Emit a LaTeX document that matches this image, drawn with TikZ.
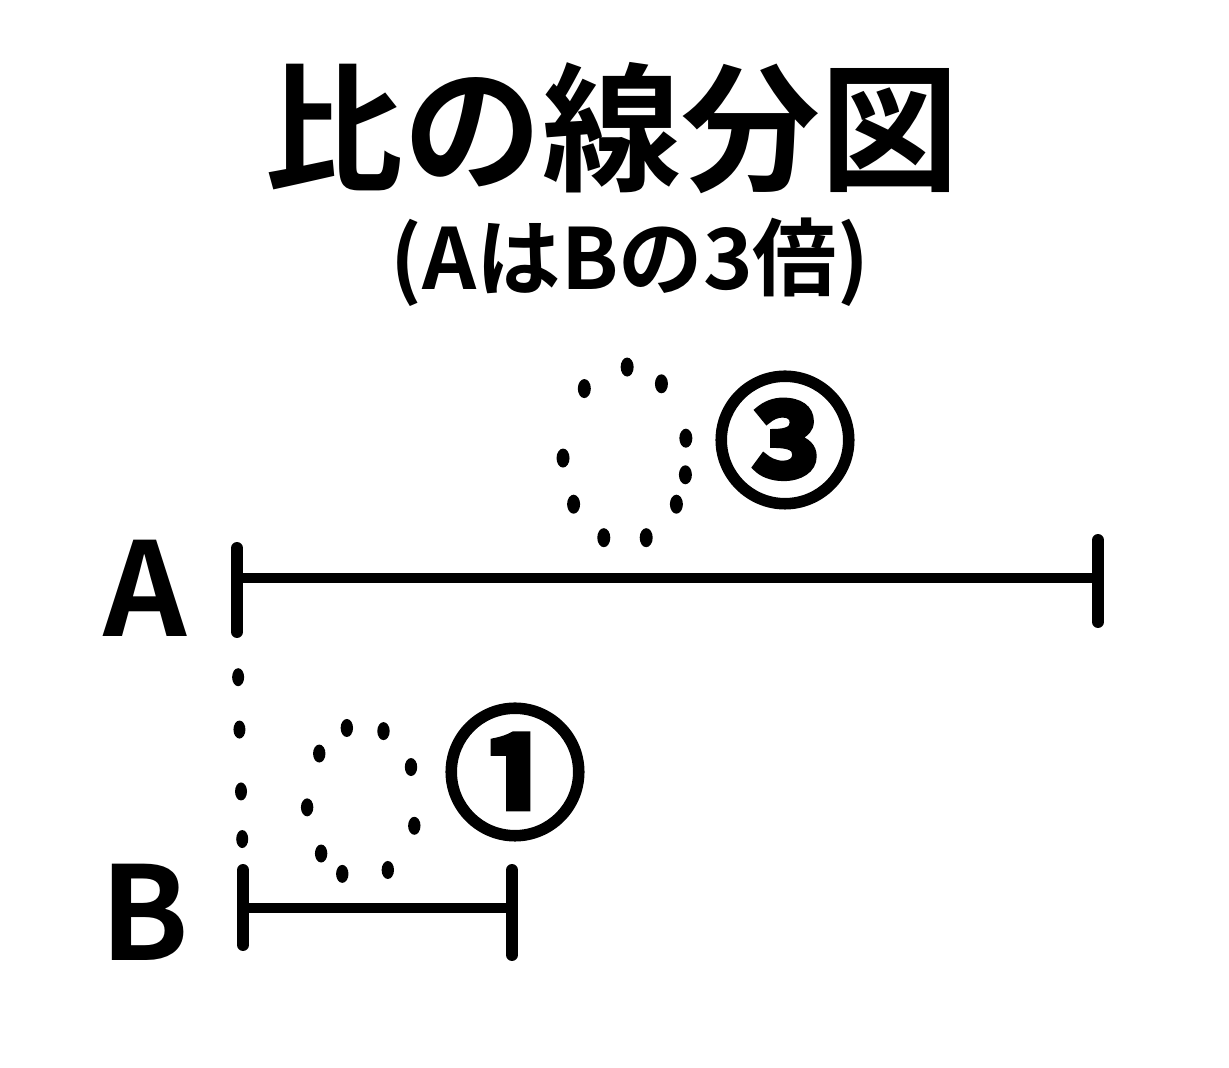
\documentclass[tikz,border=0pt]{standalone}
\usepackage{fontspec}
\setmainfont{Noto Sans CJK JP}[BoldFont={Noto Sans CJK JP Bold}]
\newfontfamily\circfont{Noto Sans CJK JP Bold}[FakeBold=4.5]
\usetikzlibrary{positioning,calc}

\begin{document}
\begin{tikzpicture}[
    heading/.style={font=\bfseries\fontsize{39.5pt}{39.5pt}\selectfont, inner sep=0pt},
    subheading/.style={font=\bfseries\fontsize{24pt}{24pt}\selectfont, inner sep=0pt},
    letter/.style={font=\bfseries\fontsize{37pt}{37pt}\selectfont, inner sep=0pt},
    circnum/.style={font=\circfont\fontsize{40pt}{40pt}\selectfont, inner sep=0pt},
    seg/.style={line width=2.9pt, line cap=round},
    tick/.style={line width=3.4pt, line cap=round},
    dot/.style={fill=black}
]
\useasboundingbox (0,0) rectangle (12.29,10.68);

% titles
\node [heading] (Title) at (6.12,9.40) {比の線分図};
\node [subheading] (Sub) at (6.30,8.06) {(AはBの3倍)};

% segment A
\coordinate (A-top) at (2.37,5.20);
\coordinate (A-bot) at (2.37,4.36);
\coordinate (A-left) at (2.37,4.90);
\coordinate (A-right) at (10.98,4.90);
\coordinate (A-rtop) at (10.98,5.28);
\coordinate (A-rbot) at (10.98,4.46);
\node [letter] (LabelA) at (1.45,4.80) {A};
\draw [seg] (A-left) -- (A-right);
\draw [tick] (A-top) -- (A-bot);
\draw [tick] (A-rtop) -- (A-rbot);

% segment B
\coordinate (B-top) at (2.43,1.98);
\coordinate (B-bot) at (2.43,1.23);
\coordinate (B-left) at (2.43,1.60);
\coordinate (B-right) at (5.12,1.60);
\coordinate (B-rtop) at (5.12,1.98);
\coordinate (B-rbot) at (5.12,1.13);
\node [letter] (LabelB) at (1.45,1.56) {B};
\draw [seg] (B-left) -- (B-right);
\draw [tick] (B-top) -- (B-bot);
\draw [tick] (B-rtop) -- (B-rbot);

% left ends lined up
\foreach \f in {0.19,0.41,0.67,0.87}
    \fill [dot] ($(A-bot)!\f!(B-top)$) ellipse [x radius=0.06, y radius=0.09];

% rings and their numbers
\coordinate (RingA) at (6.25,6.13);
\foreach \a in {88,54,11,-13,-34,-70,250,214,182,131}
    \fill [dot] ($(RingA)+(\a:0.62 and 0.88)$) ellipse [x radius=0.065, y radius=0.095];
\node [circnum] (Three) at (7.85,6.28) {③};

\coordinate (RingB) at (3.62,2.66);
\foreach \a in {106,67,27,-18,-62,249,222,184,141}
    \fill [dot] ($(RingB)+(\a:0.55 and 0.77)$) ellipse [x radius=0.062, y radius=0.09];
\node [circnum] (One) at (5.15,2.96) {①};
\end{tikzpicture}
\end{document}
